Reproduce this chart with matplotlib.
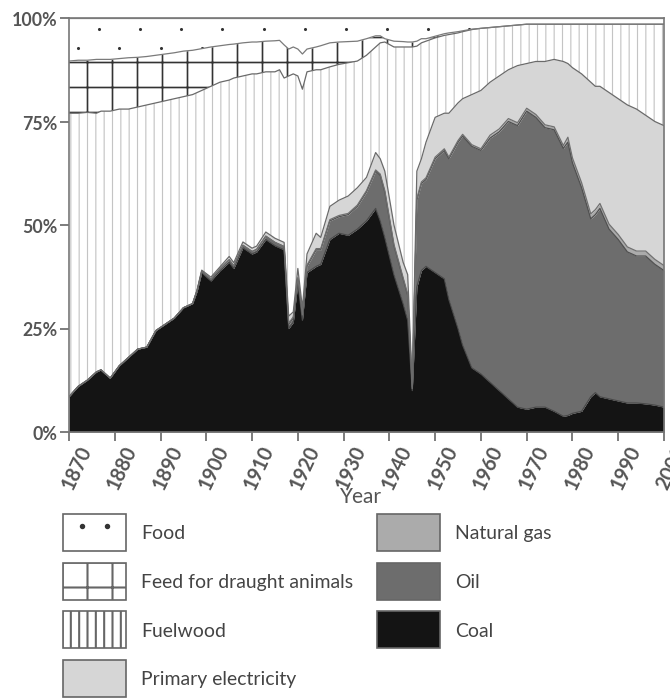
import numpy as np
import matplotlib
matplotlib.use("Agg")
import matplotlib.pyplot as plt
import matplotlib.transforms as mtrans
from matplotlib.patches import Patch
from matplotlib.lines import Line2D
from matplotlib.legend_handler import HandlerTuple, HandlerLine2D

# share of total energy supply (%), by source
years = [1870, 1872, 1874, 1876, 1877, 1879, 1881, 1883, 1885, 1887, 1889, 1891,
         1893, 1895, 1897, 1898, 1899, 1901, 1903, 1905, 1906, 1908, 1910, 1911,
         1913, 1915, 1916, 1917, 1918, 1919, 1920, 1921, 1922, 1924, 1925, 1927,
         1929, 1931, 1933, 1935, 1937, 1938, 1939, 1941, 1943, 1944, 1945, 1946,
         1947, 1948, 1950, 1952, 1953, 1955, 1956, 1958, 1960, 1962, 1964, 1966,
         1968, 1970, 1972, 1974, 1976, 1978, 1979, 1980, 1982, 1984, 1985, 1986,
         1988, 1990, 1992, 1994, 1996, 1998, 2000]

coal = [8.5, 11, 12.5, 14.5, 15, 13, 16, 18, 20, 20.5, 24.5, 26,
        27.5, 30, 31, 34, 38.5, 36.5, 39, 41, 39.5, 44.5, 43, 43.5,
        46.5, 45, 44.5, 44, 25, 26.5, 36, 27, 38.5, 40, 40.5, 46.5,
        48, 47.5, 49, 51, 54, 51, 47, 38, 31, 27, 10, 35,
        39, 40, 38.5, 37, 32, 25, 21, 15.5, 14, 12, 10, 8,
        6, 5.5, 6, 6, 5, 3.8, 4, 4.5, 5, 8.5, 9.5, 8.5,
        8, 7.5, 7, 7, 6.8, 6.5, 6]

oil = [0, 0, 0, 0, 0, 0, 0, 0, 0, 0, 0, 0,
       0, 0, 0, 0.2, 0.3, 0.4, 0.4, 0.6, 0.6, 0.6, 0.6, 0.6,
       0.8, 0.8, 0.8, 0.8, 1, 1, 1, 1, 1.5, 4, 3.5, 4.5,
       4, 5, 5.5, 7, 9, 11, 11, 7, 6, 6, 0.5, 21,
       21, 21, 27.5, 31, 34, 45, 50.5, 53.5, 54, 59, 62.5, 67,
       68, 72, 70, 67.5, 68, 64.7, 66, 60.5, 54, 43, 43, 45.5,
       41, 39, 36.5, 35.5, 35.7, 34, 33]

natural_gas = [0, 0, 0, 0, 0, 0, 0, 0, 0, 0, 0, 0,
               0, 0, 0, 0, 0, 0, 0, 0, 0, 0, 0, 0,
               0, 0, 0, 0, 0.3, 0.3, 0.3, 0.3, 0.3, 0.3, 0.3, 0.3,
               0.3, 0.3, 0.3, 0.3, 0.3, 0.3, 0.3, 0.3, 0.3, 0.3, 0, 0.4,
               0.4, 0.4, 0.4, 0.4, 0.4, 0.4, 0.4, 0.4, 0.4, 0.7, 0.7, 0.7,
               0.7, 0.7, 0.7, 0.7, 0.7, 0.7, 1.2, 1.2, 1.2, 1.2, 1.2, 1.2,
               1.2, 1.2, 1.2, 1.2, 1.2, 1.2, 1.2]

electricity = [0, 0, 0, 0, 0, 0, 0, 0, 0, 0, 0, 0,
               0, 0, 0, 0.2, 0.3, 0.5, 0.5, 0.8, 0.8, 0.8, 0.8, 0.8,
               1, 1, 1, 1, 1.7, 1.2, 2.2, 1.7, 2.7, 3.7, 2.7, 3.2,
               3.7, 4.2, 4.2, 3.2, 4.2, 3.7, 4.7, 4.7, 3.7, 4.7, 0.5, 6.6,
               5.6, 8.6, 9.6, 8.6, 10.6, 9.1, 8.6, 12.1, 14.1, 12.8, 12.8, 11.8,
               13.8, 10.8, 12.8, 15.3, 16.3, 20.3, 17.8, 21.8, 26.3, 31.8, 29.8, 28.3,
               31.8, 32.8, 34.3, 34.3, 32.8, 33.3, 33.8]

fuelwood = [68.5, 66, 64.7, 62.5, 62.5, 64.5, 62, 60, 58.5, 58.5, 55, 54,
            53, 51, 50.5, 47.6, 43.4, 46.1, 44.6, 42.6, 44.6, 40.1, 42.1, 41.6,
            38.7, 40.2, 41.2, 39.7, 58, 57.5, 46.5, 52.8, 44, 39.5, 40.5, 33.7,
            32.8, 32.2, 30.6, 29.5, 25.5, 28, 31.2, 43, 52, 55, 82, 30.2,
            28, 24.4, 19.2, 18.8, 19, 16.9, 16.2, 15.7, 15, 13.2, 11.9, 10.6,
            9.8, 9.5, 9, 9, 8.5, 9, 9.5, 10.5, 12, 14, 15, 15,
            16.5, 18, 19.5, 20.5, 22, 23.5, 24.5]

feed = [12.6, 12.8, 12.6, 13, 12.5, 12.5, 12.2, 12.4, 12, 11.7, 11.5, 11.3,
        11.1, 11, 10.7, 10.4, 10.1, 9.5, 8.8, 8.6, 8.2, 8, 7.7, 7.7,
        7.4, 7.5, 7.1, 8, 6.5, 6.5, 6.5, 8.5, 5.5, 5.5, 5.8, 5.8,
        5.4, 5.1, 4.8, 4, 2.7, 1.7, 0.8, 1.4, 1.3, 1.2, 1.2, 1.2,
        1, 0.6, 0.4, 0.4, 0.4, 0.3, 0.2, 0.1, 0, 0, 0, 0,
        0, 0, 0, 0, 0, 0, 0, 0, 0, 0, 0, 0,
        0, 0, 0, 0, 0, 0, 0]

food = [10.4, 10.2, 10.2, 10, 10, 10, 9.8, 9.6, 9.5, 9.3, 9, 8.7,
        8.4, 8, 7.8, 7.6, 7.4, 7, 6.7, 6.4, 6.3, 6, 5.8, 5.8,
        5.6, 5.5, 5.4, 6.5, 7.5, 7, 7.5, 8.7, 7.5, 7, 6.7, 6,
        5.8, 5.7, 5.6, 5, 4.3, 4.3, 5, 5.6, 5.7, 5.8, 5.8, 5.6,
        5, 5, 4.4, 3.8, 3.6, 3.3, 3.1, 2.7, 2.5, 2.3, 2.1, 1.9,
        1.7, 1.5, 1.5, 1.5, 1.5, 1.5, 1.5, 1.5, 1.5, 1.5, 1.5, 1.5,
        1.5, 1.5, 1.5, 1.5, 1.5, 1.5, 1.5]

# bottom-up stacking order: label, values, face, hatch, hatch colour, hatch width
layers = [
    ("Coal",                      coal,        "#141414", None,  "#141414", 0.6),
    ("Oil",                       oil,         "#6d6d6d", None,  "#6d6d6d", 0.6),
    ("Natural gas",               natural_gas, "#ababab", None,  "#ababab", 0.6),
    ("Primary electricity",       electricity, "#d6d6d6", None,  "#d6d6d6", 0.6),
    ("Fuelwood",                  fuelwood,    "white",   "|||", "#c4c4c4", 0.55),
    ("Feed for draught animals",  feed,        "white",   "+",   "#333333", 0.8),
    ("Food",                      food,        "white",   None,  "#333333", 0.6),
]

plt.rcParams["font.family"] = ["Lato", "DejaVu Sans"]

DPI = 150
fig = plt.figure(figsize=(670 / DPI, 701 / DPI), dpi=DPI)
ax = fig.add_axes([69 / 670, 1 - 433 / 701, 595 / 670, 414 / 701])

x = np.array(years)
base = np.zeros(len(years))
tops = []
polys = []
for name, vals, face, hatch, hcol, hlw in layers:
    top = base + np.array(vals)
    with plt.rc_context({"hatch.linewidth": hlw}):
        poly = ax.fill_between(x, base, top, facecolor=face, edgecolor=hcol,
                               hatch=hatch, linewidth=0)
    polys.append(poly)
    tops.append(top)
    base = top

# sparse dot texture for the food band, two staggered rows
dot_step = 9
row_a = np.arange(1876.5, 2000, dot_step)
row_b = np.arange(1872, 2000, dot_step)
dot_x = np.concatenate([row_a, row_b])
dot_y = np.concatenate([np.full(len(row_a), 97.3), np.full(len(row_b), 92.8)])
dots = ax.scatter(dot_x, dot_y, s=2.2, color="#333333", linewidths=0, zorder=3)
dots.set_clip_path(polys[-1].get_paths()[0], ax.transData)

# boundary lines between the layers
line_cols = ["#4a4a4a", "#505050", "#707070", "#6a6a6a", "#6a6a6a", "#7a7a7a", "#8a8a8a"]
for top, lc in zip(tops, line_cols):
    ax.plot(x, top, color=lc, linewidth=0.6, zorder=4)

ax.set_xlim(1870, 2000)
ax.set_ylim(0, 100)
ax.set_xticks(range(1870, 2001, 10))
ax.set_yticks([0, 25, 50, 75, 100])
ax.set_yticklabels(["0%", "25%", "50%", "75%", "100%"])
for spine in ax.spines.values():
    spine.set_color("#777777")
    spine.set_linewidth(0.8)
    spine.set_zorder(5)

ax.tick_params(axis="both", colors="#666666", labelcolor="#555555",
               length=4.5, width=0.8, labelsize=8.5)
ax.tick_params(axis="y", pad=1)
ax.tick_params(axis="x", pad=0, labelsize=9.5)
for lbl in ax.get_yticklabels():
    lbl.set_fontweight("bold")
shift = mtrans.ScaledTranslation(8 / DPI, 0, fig.dpi_scale_trans)
for lbl in ax.get_xticklabels():
    lbl.set_fontweight("bold")
    lbl.set_rotation(65)
    lbl.set_ha("right")
    lbl.set_va("top")
    lbl.set_rotation_mode("anchor")
    lbl.set_transform(lbl.get_transform() + shift)

ax.set_xlabel("Year", color="#555555", fontsize=10)
ax.xaxis.set_label_coords(0.49, -0.13)

# legend swatches
handles = []
for name, vals, face, hatch, hcol, hlw in layers:
    handles.append(Patch(facecolor=face, edgecolor="#666666", hatch=hatch,
                         linewidth=0.8))
food_dots = Line2D([], [], linestyle="none", marker="o", markersize=1.6,
                   color="#333333")
handles[-1] = (handles[-1], food_dots)

order = [6, 5, 4, 3, 2, 1, 0]
fig.legend([handles[i] for i in order], [layers[i][0] for i in order],
           handler_map={tuple: HandlerTuple(ndivide=1, pad=0),
                        food_dots: HandlerLine2D(numpoints=2, marker_pad=1.0)},
           loc="upper left", bbox_to_anchor=(63 / 670, 1 - 515 / 701),
           ncol=2, frameon=False, fontsize=9.3, labelcolor="#444444",
           handlelength=3.25, handleheight=2.56, handletextpad=0.77,
           labelspacing=0.6, columnspacing=1.24, borderpad=0, borderaxespad=0)

fig.savefig("out.png", dpi=DPI, facecolor="white")
